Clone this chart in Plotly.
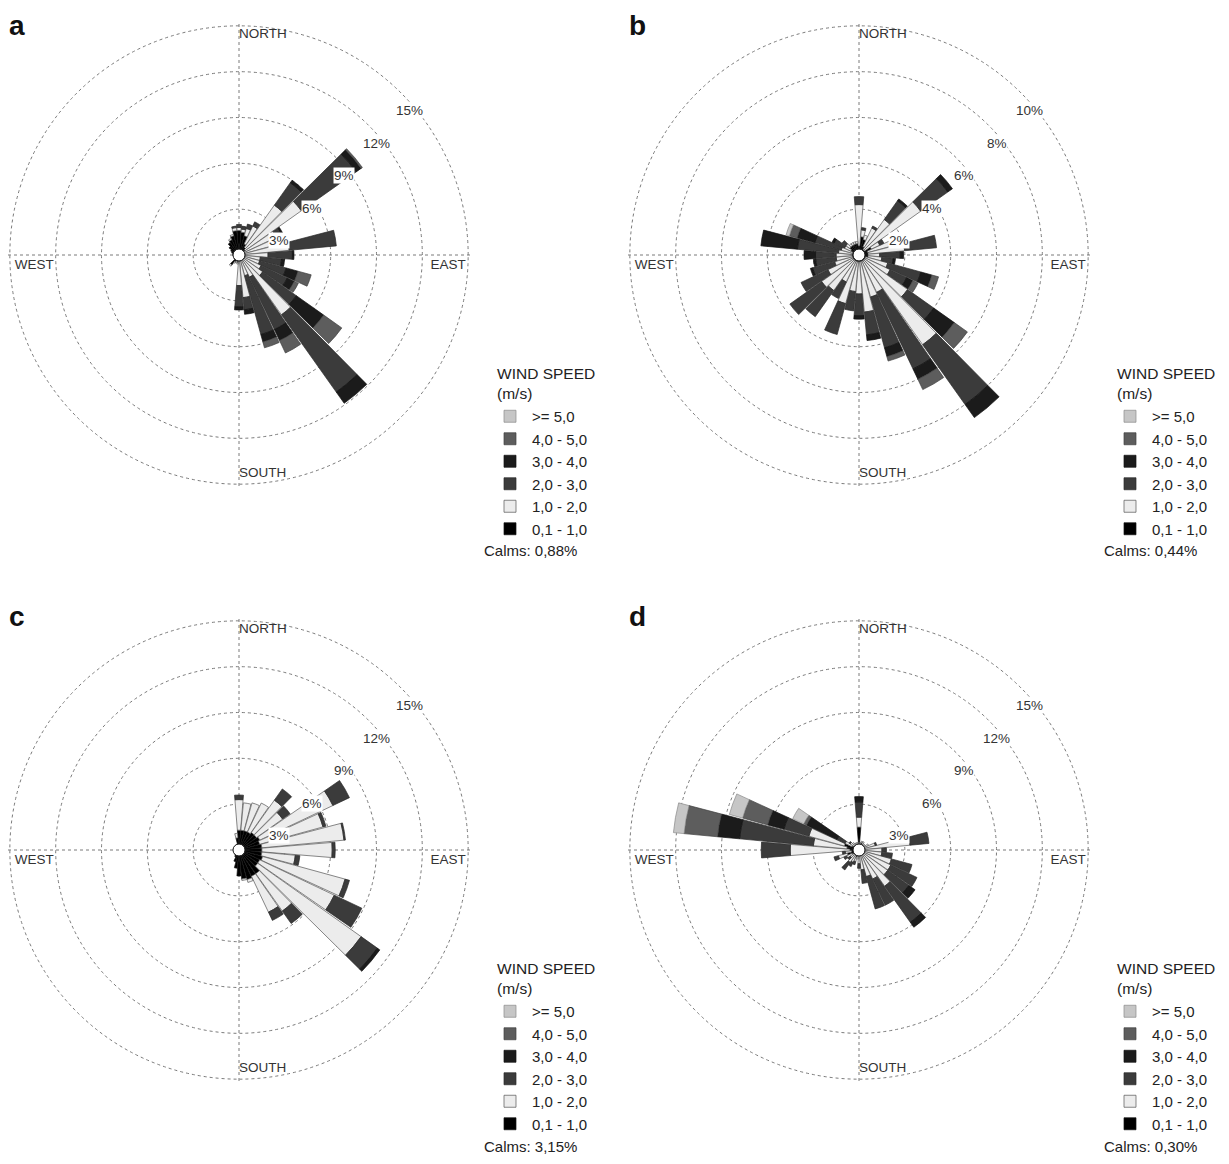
import math
import plotly.graph_objects as go

# ---------------- data ----------------
DIRECTIONS = list(range(0, 360, 10))
SPEED_CLASSES = ["0,1 - 1,0", "1,0 - 2,0", "2,0 - 3,0", "3,0 - 4,0", "4,0 - 5,0", ">= 5,0"]
COMPASS = ["NORTH", "EAST", "SOUTH", "WEST"]
COMPASS_DEG = [0, 90, 180, 270]
PANELS = ["a", "b", "c", "d"]
CALMS = ["0,88%", "0,44%", "3,15%", "0,30%"]
TICKS_A = [3, 6, 9, 12, 15]
TICKS_B = [2, 4, 6, 8, 10]
TICKS_C = [3, 6, 9, 12, 15]
TICKS_D = [3, 6, 9, 12, 15]

# panel a : frequency (%) per direction, one list per speed class
A_S1 = [1.6, 1.5, 1.3, 0.8, 0.6, 0.5, 0.4, 0.4, 0.4, 0.4, 0.4, 0.4, 0.4, 0.4, 0.4, 0.4, 0.4, 0.4,
        0.4, 0.5, 0.4, 0.5, 0.8, 0.4, 0.3, 0.3, 0.3, 0.4, 0.4, 0.5, 0.6, 0.8, 1.0, 1.1, 1.3, 1.6]
A_S2 = [0.2, 0.2, 0.5, 1.3, 3.4, 4.5, 2.3, 2.0, 2.9, 1.5, 1.0, 1.0, 1.2, 1.5, 4.4, 1.2, 1.0, 2.4,
        1.6, 0.1, 0.1, 0.1, 0.1, 0.0, 0.0, 0.0, 0.0, 0.0, 0.0, 0.0, 0.0, 0.0, 0.0, 0.1, 0.1, 0.2]
A_S3 = [0.2, 0.2, 0.3, 0.3, 1.8, 4.4, 0.4, 0.2, 3.1, 1.6, 1.4, 1.8, 1.9, 2.7, 6.2, 3.8, 4.0, 0.8,
        1.4, 0.0, 0.0, 0.0, 0.0, 0.0, 0.0, 0.0, 0.0, 0.0, 0.0, 0.0, 0.0, 0.0, 0.0, 0.0, 0.0, 0.1]
A_S4 = [0.0, 0.0, 0.0, 0.0, 0.2, 0.4, 0.1, 0.0, 0.0, 0.1, 0.2, 0.8, 0.5, 2.2, 0.9, 0.8, 0.5, 0.3,
        0.2, 0.0, 0.0, 0.0, 0.0, 0.0, 0.0, 0.0, 0.0, 0.0, 0.0, 0.0, 0.0, 0.0, 0.0, 0.0, 0.0, 0.0]
A_S5 = [0.0, 0.0, 0.0, 0.0, 0.0, 0.1, 0.0, 0.0, 0.0, 0.0, 0.0, 0.9, 0.3, 1.45, 0.0, 0.9, 0.4, 0.0,
        0.0, 0.0, 0.0, 0.0, 0.0, 0.0, 0.0, 0.0, 0.0, 0.0, 0.0, 0.0, 0.0, 0.0, 0.0, 0.0, 0.0, 0.0]
A_S6 = [0.0] * 36

# panel b
B_S1 = [0.4, 0.8, 0.7, 0.4, 0.3, 0.3, 0.6, 0.4, 0.4, 0.4, 0.4, 0.3, 0.3, 0.3, 0.3, 0.3, 0.3, 0.3,
        0.3, 0.3, 0.3, 0.3, 0.3, 0.3, 0.3, 0.3, 0.3, 0.3, 0.3, 0.3, 0.4, 0.5, 0.5, 0.5, 0.5, 0.5]
B_S2 = [1.8, 0.3, 0.2, 0.9, 1.6, 3.0, 0.4, 1.4, 1.6, 0.5, 0.6, 1.0, 1.2, 2.3, 4.5, 1.5, 1.6, 2.2,
        1.4, 1.3, 1.9, 1.0, 1.6, 1.7, 1.2, 0.8, 0.7, 0.7, 0.6, 0.5, 0.3, 0.2, 0.1, 0.1, 0.1, 0.1]
B_S3 = [0.35, 0.1, 0.0, 0.1, 1.0, 1.45, 0.2, 0.2, 1.4, 0.9, 0.5, 1.5, 0.8, 1.4, 3.2, 3.7, 2.3, 1.0,
        0.95, 0.85, 1.4, 0.8, 1.4, 1.7, 1.3, 1.0, 0.9, 0.9, 1.8, 1.2, 0.5, 0.2, 0.0, 0.0, 0.0, 0.0]
B_S4 = [0.0, 0.0, 0.0, 0.0, 0.1, 0.25, 0.0, 0.0, 0.0, 0.15, 0.1, 0.5, 0.3, 1.1, 0.7, 0.5, 0.4, 0.25,
        0.15, 0.0, 0.0, 0.0, 0.0, 0.0, 0.0, 0.1, 0.1, 0.5, 1.6, 0.8, 0.1, 0.0, 0.0, 0.0, 0.0, 0.0]
B_S5 = [0.0, 0.0, 0.0, 0.0, 0.0, 0.0, 0.0, 0.0, 0.0, 0.0, 0.0, 0.3, 0.25, 0.7, 0.0, 0.5, 0.2, 0.0,
        0.0, 0.0, 0.0, 0.0, 0.0, 0.0, 0.0, 0.0, 0.0, 0.0, 0.0, 0.35, 0.0, 0.0, 0.0, 0.0, 0.0, 0.0]
B_S6 = [0.0, 0.0, 0.0, 0.0, 0.0, 0.0, 0.0, 0.0, 0.0, 0.0, 0.0, 0.0, 0.0, 0.0, 0.0, 0.0, 0.0, 0.0,
        0.0, 0.0, 0.0, 0.0, 0.0, 0.0, 0.0, 0.0, 0.0, 0.0, 0.0, 0.15, 0.0, 0.0, 0.0, 0.0, 0.0, 0.0]

# panel c
C_S1 = [1.3, 1.3, 1.3, 1.3, 1.4, 1.4, 1.5, 1.4, 1.5, 1.5, 1.5, 1.6, 1.5, 1.5, 1.9, 1.9, 2.0, 1.9,
        1.7, 1.2, 0.8, 0.5, 0.4, 0.3, 0.3, 0.3, 0.3, 0.3, 0.3, 0.3, 0.3, 0.3, 0.3, 0.3, 0.4, 0.8]
C_S2 = [2.0, 1.8, 1.9, 2.1, 2.6, 2.1, 5.3, 4.3, 5.4, 4.6, 2.2, 5.6, 5.4, 8.3, 3.0, 2.6, 0.2, 0.1,
        0.0, 0.0, 0.0, 0.0, 0.0, 0.0, 0.0, 0.0, 0.0, 0.0, 0.0, 0.0, 0.0, 0.0, 0.0, 0.0, 0.0, 0.3]
C_S3 = [0.3, 0.0, 0.0, 0.0, 0.9, 0.6, 1.2, 0.2, 0.1, 0.2, 0.3, 0.3, 2.0, 1.3, 1.0, 0.6, 0.0, 0.0,
        0.0, 0.0, 0.0, 0.0, 0.0, 0.0, 0.0, 0.0, 0.0, 0.0, 0.0, 0.0, 0.0, 0.0, 0.0, 0.0, 0.0, 0.0]
C_S4 = [0.0, 0.0, 0.0, 0.0, 0.0, 0.0, 0.0, 0.0, 0.0, 0.0, 0.0, 0.0, 0.0, 0.2, 0.0, 0.0, 0.0, 0.0,
        0.0, 0.0, 0.0, 0.0, 0.0, 0.0, 0.0, 0.0, 0.0, 0.0, 0.0, 0.0, 0.0, 0.0, 0.0, 0.0, 0.0, 0.0]
C_S5 = [0.0] * 36
C_S6 = [0.0] * 36

# panel d
D_S1 = [1.5, 0.4, 0.5, 0.4, 0.4, 0.3, 0.4, 0.3, 0.4, 0.3, 0.3, 0.3, 0.3, 0.3, 0.3, 0.3, 0.3, 0.3,
        0.3, 0.3, 0.5, 0.4, 0.4, 0.4, 0.5, 0.8, 0.5, 0.6, 0.8, 1.0, 0.5, 0.4, 0.4, 0.3, 0.3, 0.3]
D_S2 = [0.65, 0.1, 0.1, 0.2, 0.1, 0.2, 0.3, 0.8, 2.95, 1.2, 1.2, 1.9, 2.0, 2.0, 2.6, 1.8, 1.5, 1.0,
        0.6, 0.3, 0.3, 0.5, 0.6, 0.3, 0.4, 0.6, 0.4, 3.9, 2.2, 2.4, 0.5, 0.3, 0.2, 0.2, 0.2, 0.2]
D_S3 = [1.0, 0.0, 0.0, 0.0, 0.0, 0.0, 0.0, 0.1, 1.25, 0.3, 0.7, 1.4, 1.9, 1.7, 2.9, 1.9, 2.2, 0.9,
        0.3, 0.0, 0.2, 0.3, 0.6, 0.2, 0.2, 0.3, 0.2, 1.9, 4.85, 1.7, 0.6, 0.1, 0.0, 0.0, 0.0, 0.0]
D_S4 = [0.35, 0.0, 0.0, 0.0, 0.0, 0.0, 0.0, 0.0, 0.0, 0.0, 0.0, 0.0, 0.0, 0.5, 0.4, 0.0, 0.0, 0.0,
        0.0, 0.0, 0.0, 0.0, 0.0, 0.0, 0.0, 0.0, 0.0, 0.0, 1.45, 1.1, 2.2, 0.0, 0.0, 0.0, 0.0, 0.0]
D_S5 = [0.0, 0.0, 0.0, 0.0, 0.0, 0.0, 0.0, 0.0, 0.0, 0.0, 0.0, 0.0, 0.0, 0.0, 0.0, 0.0, 0.0, 0.0,
        0.0, 0.0, 0.0, 0.0, 0.0, 0.0, 0.0, 0.0, 0.0, 0.0, 2.2, 1.7, 0.2, 0.0, 0.0, 0.0, 0.0, 0.0]
D_S6 = [0.0, 0.0, 0.0, 0.0, 0.0, 0.0, 0.0, 0.0, 0.0, 0.0, 0.0, 0.0, 0.0, 0.0, 0.0, 0.0, 0.0, 0.0,
        0.0, 0.0, 0.0, 0.0, 0.0, 0.0, 0.0, 0.0, 0.0, 0.0, 0.7, 0.9, 0.8, 0.0, 0.0, 0.0, 0.0, 0.0]

PANEL_DATA = [
    [A_S1, A_S2, A_S3, A_S4, A_S5, A_S6],
    [B_S1, B_S2, B_S3, B_S4, B_S5, B_S6],
    [C_S1, C_S2, C_S3, C_S4, C_S5, C_S6],
    [D_S1, D_S2, D_S3, D_S4, D_S5, D_S6],
]
PANEL_TICKS = [TICKS_A, TICKS_B, TICKS_C, TICKS_D]

# ---------------- style / layout ----------------
PAGE = 8                      # default body margin of the html page
W, H = 1229 - 2 * PAGE, 1164 - 2 * PAGE
FONT = "Liberation Sans, Arial, Helvetica, sans-serif"
FILL = ["#000000", "#ececec", "#3b3b3b", "#1b1b1b", "#5d5d5d", "#c6c6c6"]
EDGE = ["#111111", "#555555", "#2a2a2a", "#111111", "#404040", "#8a8a8a"]
GRID = "#7a7a7a"
CENTERS = [(239, 255), (859, 255), (239, 850), (859, 850)]   # screen px
RADIUS = 231          # px radius of the polar domain
PAD = 1.008           # radial range slightly beyond the outer ring so that it is drawn
LABEL_FRAC = [0.963, 0.99, 0.983, 0.979]
LABEL_DEG = [0, 91, 180, 269]
LABEL_POS = ["middle right", "bottom left", "top right", "bottom right"]
TICKLABEL_ANGLE = math.radians(45)
TICKLABEL_OFFSET = (8, 18)    # px offset of a ring label from the ring point


def px(x):
    return (x - PAGE) / W


def py(y):
    return 1 - (y - PAGE) / H


fig = go.Figure()
layout = dict(
    width=W, height=H,
    margin=dict(l=0, r=0, t=0, b=0),
    paper_bgcolor="white",
    plot_bgcolor="white",
    font=dict(family=FONT, color="#222222"),
    annotations=[],
)

for i in range(4):
    pid = "polar" if i == 0 else f"polar{i + 1}"
    lid = "legend" if i == 0 else f"legend{i + 1}"
    cx, cy = CENTERS[i]
    ticks = PANEL_TICKS[i]
    rmax = ticks[-1]

    for k in range(6):
        fig.add_trace(go.Barpolar(
            r=PANEL_DATA[i][k], theta=DIRECTIONS, name=SPEED_CLASSES[k],
            subplot=pid, legend=lid, legendgroup=f"{PANELS[i]}{k}",
            legendrank=10 * (6 - k),
            width=9.3,
            marker=dict(color=FILL[k], line=dict(color=EDGE[k], width=0.7)),
            hovertemplate="%{theta}°: %{r}%<extra>" + SPEED_CLASSES[k] + "</extra>",
        ))

    fig.add_trace(go.Scatterpolar(
        r=[f * rmax for f in LABEL_FRAC], theta=LABEL_DEG, mode="text",
        text=COMPASS, textposition=LABEL_POS,
        textfont=dict(family=FONT, size=13.5, color="#333333"),
        subplot=pid, showlegend=False, hoverinfo="skip",
    ))
    fig.add_trace(go.Scatterpolar(
        r=[0], theta=[0], mode="markers",
        marker=dict(size=12, color="white", line=dict(color="#111111", width=1)),
        subplot=pid, showlegend=False, hoverinfo="skip",
    ))

    layout[pid] = dict(
        domain=dict(x=[max(0.0, px(cx - RADIUS)), min(1.0, px(cx + RADIUS))],
                    y=[max(0.0, py(cy + RADIUS)), min(1.0, py(cy - RADIUS))]),
        bgcolor="white",
        barmode="stack",
        radialaxis=dict(range=[0, rmax * PAD], tickmode="array", tickvals=ticks,
                        showticklabels=False, showline=False, ticks="",
                        gridcolor=GRID, griddash="dot", gridwidth=1),
        angularaxis=dict(rotation=90, direction="clockwise",
                         tickvals=COMPASS_DEG, showticklabels=False, ticks="",
                         showline=False, gridcolor=GRID, griddash="dot", gridwidth=1),
    )

    # ring labels (white boxed, drawn over the bars like the original)
    for t in ticks:
        rp = RADIUS * t / (rmax * PAD)
        lx = cx + rp * math.cos(TICKLABEL_ANGLE) + TICKLABEL_OFFSET[0]
        ly = cy - rp * math.sin(TICKLABEL_ANGLE) + TICKLABEL_OFFSET[1]
        layout["annotations"].append(dict(
            text=f"{t}%", xref="paper", yref="paper", x=px(lx), y=py(ly),
            xanchor="center", yanchor="middle", showarrow=False,
            bgcolor="white", borderpad=0,
            font=dict(family=FONT, size=13.5, color="#333333"),
        ))

    layout[lid] = dict(
        x=px(cx + 249), y=py(cy + 145), xanchor="left", yanchor="top",
        traceorder="grouped", tracegroupgap=0, itemwidth=34,
        bgcolor="rgba(0,0,0,0)",
        font=dict(family=FONT, size=15, color="#222222"),
    )

    layout["annotations"].append(dict(
        text="WIND SPEED<br>(m/s)", xref="paper", yref="paper", align="left",
        x=px(cx + 256), y=py(cy + 128), xanchor="left", yanchor="middle",
        showarrow=False, font=dict(family=FONT, size=15.5, color="#222222"),
    ))
    layout["annotations"].append(dict(
        text="Calms: " + CALMS[i], xref="paper", yref="paper",
        x=px(cx + 243), y=py(cy + 296), xanchor="left", yanchor="middle",
        showarrow=False, font=dict(family=FONT, size=15, color="#222222"),
    ))
    layout["annotations"].append(dict(
        text="<b>" + PANELS[i] + "</b>", xref="paper", yref="paper",
        x=px(cx - 232), y=min(1.0, py(cy - 251)), xanchor="left", yanchor="top",
        showarrow=False, font=dict(family=FONT, size=28, color="#111111"),
    ))

fig.update_layout(**layout)
fig.write_html("out.html")
